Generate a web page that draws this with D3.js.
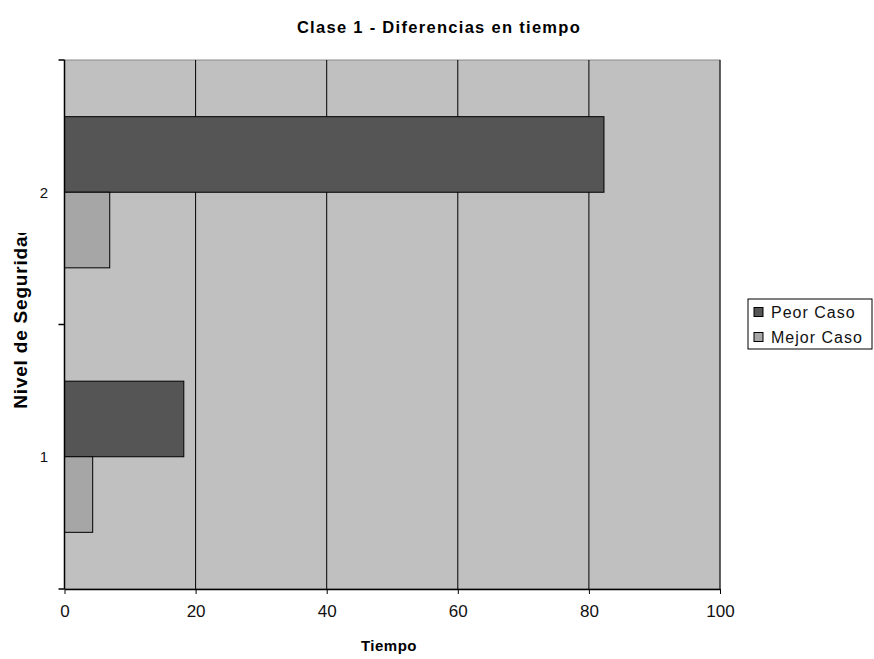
<!DOCTYPE html>
<html>
<head>
<meta charset="utf-8">
<script src="https://cdn.jsdelivr.net/npm/d3@7"></script>
<style>
  body { margin: 0; background: #fff; }
  text { font-family: "Liberation Sans", Arial, sans-serif; }
</style>
</head>
<body>
<svg width="874" height="659"></svg>
<script>
// Data
var levels = ['1', '2'];
var seriesNames = ['Peor Caso', 'Mejor Caso'];
var peorCaso = [18.2, 82.3];
var mejorCaso = [4.3, 6.9];
var xTicks = [0, 20, 40, 60, 80, 100];
var seriesColors = ['#555555', '#a6a6a6'];

var svg = d3.select('svg');
var plot = {l: 64.5, r: 720, t: 60, b: 589};

var xScale = d3.scaleLinear().domain([0, 100]).range([plot.l, plot.r]);
// category 1 at bottom, 2 at top
var yScale = d3.scaleBand().domain(levels.slice().reverse()).range([plot.t, plot.b]);
var barH = yScale.bandwidth() / 3.5; // Excel gap width 150%
var ySeries = d3.scaleBand().domain(seriesNames).range([0, 2 * barH]);

// plot background
svg.append('rect')
    .attr('x', plot.l).attr('y', plot.t)
    .attr('width', plot.r - plot.l).attr('height', plot.b - plot.t)
    .attr('fill', '#c0c0c0')
    .attr('stroke', '#8a8a8a').attr('stroke-width', 1);

// vertical gridlines
svg.append('g')
    .selectAll('line')
    .data(xTicks.slice(1))
    .enter().append('line')
    .attr('x1', d => xScale(d)).attr('x2', d => xScale(d))
    .attr('y1', plot.t).attr('y2', plot.b)
    .attr('stroke', '#000').attr('stroke-width', 1);

// bars
var rows = levels.map((lv, i) => ({level: lv, values: [peorCaso[i], mejorCaso[i]]}));
var groups = svg.selectAll('.level')
    .data(rows)
    .enter().append('g')
    .attr('class', 'level')
    .attr('transform', d => 'translate(0,' + (yScale(d.level) + (yScale.bandwidth() - 2 * barH) / 2) + ')');

groups.selectAll('rect')
    .data(d => d.values.map((v, j) => ({name: seriesNames[j], value: v, color: seriesColors[j]})))
    .enter().append('rect')
    .attr('x', xScale(0))
    .attr('y', d => ySeries(d.name))
    .attr('width', d => xScale(d.value) - xScale(0))
    .attr('height', barH)
    .attr('fill', d => d.color)
    .attr('stroke', '#000').attr('stroke-width', 1);

// x axis
var xAxis = svg.append('g')
    .attr('transform', 'translate(0,' + plot.b + ')')
    .call(d3.axisBottom(xScale).tickValues(xTicks).tickSize(5).tickSizeOuter(0));
xAxis.select('.domain').attr('stroke', '#000').attr('stroke-width', 1.5);
xAxis.selectAll('text')
    .attr('dy', '1.2em')
    .style('font-size', '17px')
    .style('font-family', '"Liberation Sans", Arial, sans-serif')
    .attr('fill', '#111');

// y axis: ticks at category boundaries
svg.append('line')
    .attr('x1', plot.l).attr('x2', plot.l)
    .attr('y1', plot.t).attr('y2', plot.b)
    .attr('stroke', '#000').attr('stroke-width', 1.5);
var boundaries = levels.map(d => yScale(d)).concat([plot.b]);
svg.append('g')
    .selectAll('line')
    .data(boundaries)
    .enter().append('line')
    .attr('x1', plot.l - 6).attr('x2', plot.l)
    .attr('y1', d => d).attr('y2', d => d)
    .attr('stroke', '#000').attr('stroke-width', 1.5);
svg.append('g')
    .selectAll('text')
    .data(levels)
    .enter().append('text')
    .attr('x', 48)
    .attr('y', d => yScale(d) + yScale.bandwidth() / 2)
    .attr('dy', '0.35em')
    .attr('text-anchor', 'end')
    .style('font-size', '15px')
    .attr('fill', '#111')
    .text(d => d);

// title
svg.append('text')
    .attr('x', 439).attr('y', 33)
    .attr('text-anchor', 'middle')
    .style('font-size', '16.5px').style('font-weight', 'bold')
    .style('letter-spacing', '1.3px')
    .text('Clase 1 - Diferencias en tiempo');

// x axis title
svg.append('text')
    .attr('x', 389).attr('y', 651)
    .attr('text-anchor', 'middle')
    .style('font-size', '15px').style('font-weight', 'bold')
    .style('letter-spacing', '0.5px')
    .text('Tiempo');

// y axis title (clipped at the top like the original)
svg.append('clipPath').attr('id', 'yclip')
    .append('rect').attr('x', 0).attr('y', 233).attr('width', 40).attr('height', 200);
svg.append('g')
    .attr('clip-path', 'url(#yclip)')
    .append('text')
    .attr('transform', 'translate(27,' + 316 + ') rotate(-90)')
    .attr('text-anchor', 'middle')
    .style('font-size', '19px').style('font-weight', 'bold')
    .style('letter-spacing', '0.8px')
    .text('Nivel de Seguridad');

// legend
var legend = svg.append('g').attr('transform', 'translate(748,299)');
legend.append('rect')
    .attr('width', 124).attr('height', 50)
    .attr('fill', '#fff').attr('stroke', '#000').attr('stroke-width', 1);
var items = legend.selectAll('.item')
    .data(seriesNames)
    .enter().append('g')
    .attr('class', 'item')
    .attr('transform', (d, i) => 'translate(6,' + (13 + i * 25) + ')');
items.append('rect')
    .attr('x', 0).attr('y', -4.5)
    .attr('width', 9).attr('height', 9)
    .attr('fill', (d, i) => seriesColors[i])
    .attr('stroke', '#000').attr('stroke-width', 1);
items.append('text')
    .attr('x', 17).attr('dy', '0.36em')
    .style('font-size', '16px')
    .style('letter-spacing', '1px')
    .attr('fill', '#111')
    .text(d => d);
</script>
</body>
</html>
